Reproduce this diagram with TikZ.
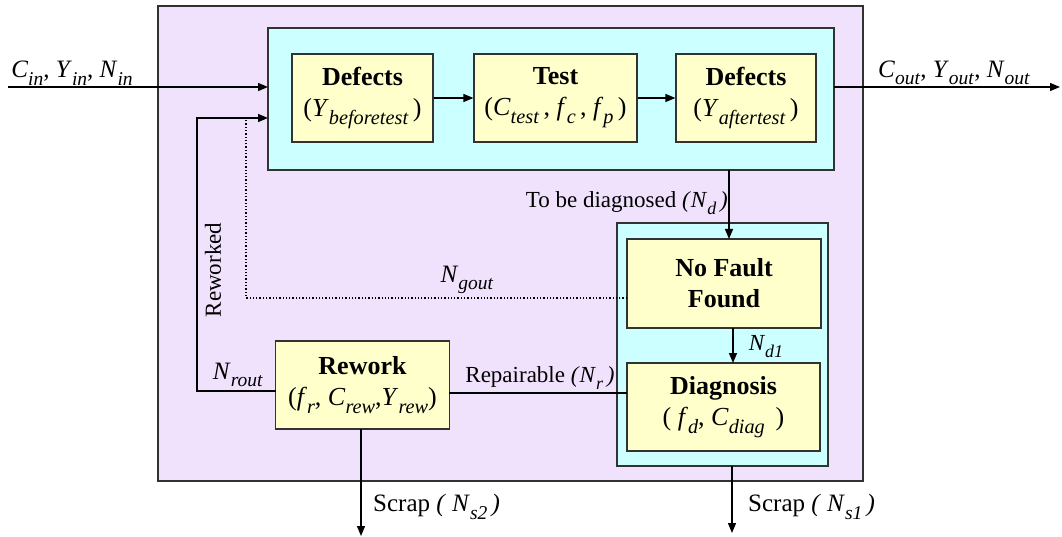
\documentclass[tikz,border=0pt]{standalone}
\usepackage{fontspec}
\setmainfont{Liberation Serif}
\usetikzlibrary{arrows.meta}
\definecolor{lav}{RGB}{240,226,252}
\definecolor{cyanbg}{RGB}{204,255,255}
\definecolor{yel}{RGB}{255,255,204}
\definecolor{edge}{RGB}{50,50,50}
\newcommand{\vsub}[2]{\textit{#1}\raisebox{-0.3em}{\scalebox{0.78}{\textit{#2}}}}
\tikzset{
  outerbox/.style={draw=edge, line width=1.2pt, fill=lav, inner sep=0pt},
  groupbox/.style={draw=edge, line width=1.2pt, fill=cyanbg, inner sep=0pt},
  procbox/.style={draw=edge, line width=1.2pt, fill=yel, inner sep=0pt, align=center, font=\fontsize{26}{31}\selectfont},
  conn/.style={line width=1.3pt, draw=black},
  arr/.style={conn, -{Triangle[length=10pt,width=8pt]}},
  dotconn/.style={line width=1.3pt, dotted},
  lbl/.style={inner sep=0pt, font=\fontsize{23}{27}\selectfont},
  bigl/.style={inner sep=0pt, font=\fontsize{25}{29}\selectfont},
}
\begin{document}
\begin{tikzpicture}[x=1pt,y=-1pt]
\useasboundingbox (0,0) rectangle (1062,537);
% outer frame
\node[outerbox, minimum width=705pt, minimum height=475pt] (outer) at (510.5,243.5) {};
% group boxes
\node[groupbox, minimum width=566pt, minimum height=142pt] (topgrp) at (551,99) {};
\node[groupbox, minimum width=211pt, minimum height=243pt] (botgrp) at (722.5,344.5) {};
% process boxes
\node[procbox, minimum width=141pt, minimum height=88pt] (def1) at (362.5,98) {\textbf{Defects}\\(\vsub{Y}{beforetest}\,)};
\node[procbox, minimum width=163pt, minimum height=88pt] (test) at (555.5,98) {\textbf{Test}\\(\vsub{C}{test}\,, \vsub{f}{c}\,, \vsub{f}{p}\,)};
\node[procbox, minimum width=140pt, minimum height=88pt] (def2) at (746,98) {\textbf{Defects}\\(\vsub{Y}{aftertest}\,)};
\node[procbox, minimum width=194pt, minimum height=89pt] (nff) at (724,283.5) {\textbf{No Fault}\\\textbf{Found}};
\node[procbox, minimum width=193pt, minimum height=88pt] (diag) at (723.5,407) {\textbf{Diagnosis}\\( \vsub{f}{d}, \vsub{C}{diag}\, )};
\node[procbox, minimum width=174pt, minimum height=88pt] (rework) at (362.5,385) {\textbf{Rework}\\(\vsub{f}{r}, \vsub{C}{rew},\vsub{Y}{rew})};
% coordinates
\coordinate (inStart) at (8,87);
\coordinate (inEnd) at (268,87);
\coordinate (outStart) at (834,87);
\coordinate (outEnd) at (1060,87);
\coordinate (rwEnd) at (268,118);
\coordinate (rwCorner) at (197,118);
\coordinate (rwLow) at (197,391);
\coordinate (rwStart) at (276,391);
\coordinate (dotTop) at (246,118);
\coordinate (dotCorner) at (246,298);
\coordinate (dotStart) at (627,298);
\coordinate (ndStart) at (729,170);
\coordinate (ndEnd) at (729,239);
\coordinate (nd1Start) at (733,328);
\coordinate (nd1End) at (733,363);
\coordinate (repA) at (449,393);
\coordinate (repB) at (627,393);
\coordinate (s2Start) at (361,429);
\coordinate (s2End) at (361,536);
\coordinate (s1Start) at (732,466);
\coordinate (s1End) at (732,533);
% connectors
\draw[arr] (inStart) -- (inEnd);
\draw[arr] (def1.east) -- (test.west);
\draw[arr] (test.east) -- (def2.west);
\draw[arr] (outStart) -- (outEnd);
\draw[arr] (ndStart) -- (ndEnd);
\draw[arr] (nd1Start) -- (nd1End);
\draw[conn] (repA) -- (repB);
\draw[arr] (rwStart) -- (rwLow) -- (rwCorner) -- (rwEnd);
\draw[dotconn] (dotStart) -- (dotCorner) -- (dotTop);
\draw[arr] (s2Start) -- (s2End);
\draw[arr] (s1Start) -- (s1End);
% labels
\node[bigl] (lin) at (72,73) {\vsub{C}{in}, \vsub{Y}{in}, \vsub{N}{in}};
\node[bigl] (lout) at (954,73) {\vsub{C}{out}, \vsub{Y}{out}, \vsub{N}{out}};
\node[lbl, anchor=east] (lnd) at (728,203) {To be diagnosed \textit{(}\vsub{N}{d}\,\textit{)}};
\node[bigl] (lgout) at (467,280) {\vsub{N}{gout}};
\node[lbl] (lnd1) at (766,347) {\vsub{N}{d1}};
\node[lbl, rotate=90] (lrw) at (213,270) {Reworked};
\node[bigl] (lrout) at (238,375) {\vsub{N}{rout}};
\node[lbl] (lrep) at (540,378) {Repairable \textit{(}\vsub{N}{r}\,\textit{)}};
\node[bigl, anchor=west] (ls2) at (373,507) {Scrap \textit{(} \vsub{N}{s2}\,\textit{)}};
\node[bigl, anchor=west] (ls1) at (748,507) {Scrap \textit{(} \vsub{N}{s1}\,\textit{)}};
\end{tikzpicture}
\end{document}
